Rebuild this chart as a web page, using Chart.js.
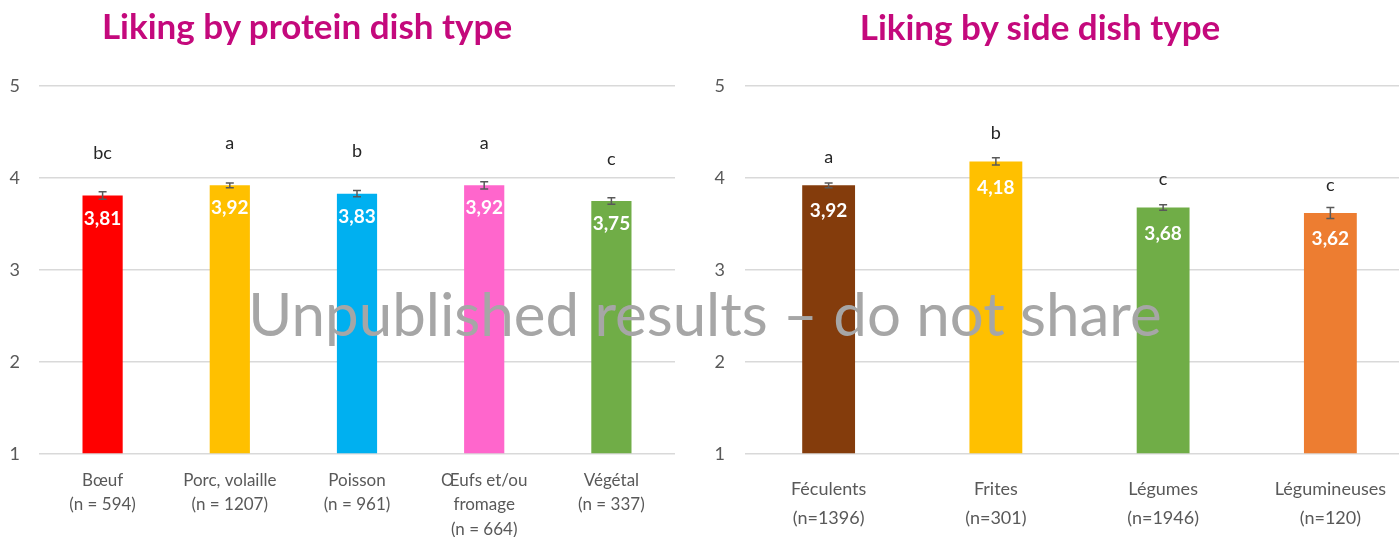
<!DOCTYPE html>
<html>
<head>
<meta charset="utf-8">
<script src="https://cdn.jsdelivr.net/npm/chart.js@4.4.1/dist/chart.umd.min.js"></script>
<style>
  html, body { margin: 0; padding: 0; background: #fff; }
  body { width: 1399px; height: 537px; position: relative; overflow: hidden; font-family: Lato, sans-serif; }
  canvas { position: absolute; top: 0; }
  #chart-protein { left: 0; }
  #chart-side { left: 700px; }
  .chart-title {
    position: absolute; margin: 0; white-space: nowrap;
    font-size: 35px; font-weight: 700; color: #C4097C;
    transform: translate(-50%, -50%);
  }
  .watermark {
    position: absolute; left: 705px; top: 313px; white-space: nowrap;
    transform: translate(-50%, -50%);
    font-size: 60px; color: #A6A6A6; pointer-events: none;
  }
</style>
</head>
<body>
<canvas id="chart-protein" width="700" height="537"></canvas>
<!-- plot runs a little past the right edge of the page -->
<canvas id="chart-side" width="714" height="537"></canvas>
<h2 class="chart-title" style="left:307px; top:25px;">Liking by protein dish type</h2>
<h2 class="chart-title" style="left:1040px; top:26px;">Liking by side dish type</h2>
<div class="watermark">Unpublished results – do not share</div>

<script>
// Protein dishes
const proteinLabels = [
  ["Bœuf", "(n = 594)"],
  ["Porc, volaille", "(n = 1207)"],
  ["Poisson", "(n = 961)"],
  ["Œufs et/ou", "fromage", "(n = 664)"],
  ["Végétal", "(n = 337)"],
];
const proteinMeans = [3.81, 3.92, 3.83, 3.92, 3.75];
const proteinErrors = [0.04, 0.025, 0.035, 0.04, 0.035];
const proteinLetters = ["bc", "a", "b", "a", "c"];
const proteinColors = ["#FF0000", "#FFC000", "#00B0F0", "#FF66CC", "#70AD47"];

// Side dishes
const sideLabels = [
  ["Féculents", "(n=1396)"],
  ["Frites", "(n=301)"],
  ["Légumes", "(n=1946)"],
  ["Légumineuses", "(n=120)"],
];
const sideMeans = [3.92, 4.18, 3.68, 3.62];
const sideErrors = [0.025, 0.04, 0.03, 0.06];
const sideLetters = ["a", "b", "c", "c"];
const sideColors = ["#843C0C", "#FFC000", "#70AD47", "#ED7D31"];

const yTicks = [1, 2, 3, 4, 5];

const FONT = "Lato, 'Open Sans', sans-serif";
const fmt = (v) => v.toFixed(2).replace(".", ",");

// error bars, significance letters and value labels drawn from bar elements
const barNotes = {
  id: "barNotes",
  afterDatasetsDraw(chart, args, opts) {
    const { ctx } = chart;
    const y = chart.scales.y;
    const meta = chart.getDatasetMeta(0);
    const values = chart.data.datasets[0].data;
    ctx.save();
    meta.data.forEach((bar, i) => {
      const v = values[i];
      const err = opts.errors[i];
      const top = y.getPixelForValue(v + err);
      const bot = y.getPixelForValue(v - err);
      ctx.strokeStyle = "#595959";
      ctx.lineWidth = 1.5;
      ctx.beginPath();
      ctx.moveTo(bar.x, top); ctx.lineTo(bar.x, bot);
      ctx.moveTo(bar.x - 4, top); ctx.lineTo(bar.x + 4, top);
      ctx.moveTo(bar.x - 4, bot); ctx.lineTo(bar.x + 4, bot);
      ctx.stroke();

      ctx.textAlign = "center";
      ctx.textBaseline = "middle";
      ctx.fillStyle = "#262626";
      ctx.font = `18px ${FONT}`;
      ctx.fillText(opts.letters[i], bar.x, bar.y - opts.letterGap);

      ctx.fillStyle = "#FFFFFF";
      ctx.font = `bold 19px ${FONT}`;
      ctx.fillText(fmt(v), bar.x, bar.y + opts.valueGap);
    });
    ctx.restore();
  },
};

function makeChart(canvasId, cfg) {
  return new Chart(document.getElementById(canvasId), {
    type: "bar",
    data: {
      labels: cfg.labels,
      datasets: [{
        data: cfg.means,
        base: 1,
        backgroundColor: cfg.colors,
        borderWidth: 0,
        categoryPercentage: 1,
        barPercentage: 0.316,
      }],
    },
    options: {
      responsive: false,
      animation: false,
      events: [],
      layout: { padding: { top: 86, right: cfg.padRight, bottom: 0, left: 0 } },
      plugins: {
        legend: { display: false },
        title: { display: false },
        tooltip: { enabled: false },
        barNotes: {
          errors: cfg.errors,
          letters: cfg.letters,
          letterGap: cfg.letterGap,
          valueGap: cfg.valueGap,
        },
      },
      scales: {
        x: {
          grid: { display: false },
          border: { display: false },
          ticks: {
            color: "#595959",
            font: { family: FONT, size: cfg.xFont, lineHeight: cfg.xLine },
            padding: cfg.xPad,
            maxRotation: 0,
            autoSkip: false,
          },
          afterFit(axis) { axis.height = 83; },
        },
        y: {
          min: 1,
          max: 5,
          afterBuildTicks(axis) { axis.ticks = yTicks.map((v) => ({ value: v })); },
          grid: { color: "#D9D9D9", lineWidth: 1.5, drawTicks: false },
          border: { display: false },
          ticks: {
            color: "#595959",
            font: { family: FONT, size: 18 },
            padding: cfg.yPad,
          },
          afterFit(axis) { axis.width = cfg.yWidth; },
        },
      },
    },
    plugins: [barNotes],
  });
}

makeChart("chart-protein", {
  labels: proteinLabels, means: proteinMeans, errors: proteinErrors,
  letters: proteinLetters, colors: proteinColors,
  padRight: 25, yWidth: 39, yPad: 19,
  xFont: 17, xLine: 1.45, xPad: 6,
  letterGap: 42, valueGap: 23,
});

makeChart("chart-side", {
  labels: sideLabels, means: sideMeans, errors: sideErrors,
  letters: sideLetters, colors: sideColors,
  padRight: 0, yWidth: 45, yPad: 20,
  xFont: 18, xLine: 1.6, xPad: 13,
  letterGap: 28, valueGap: 26,
});
</script>
</body>
</html>
